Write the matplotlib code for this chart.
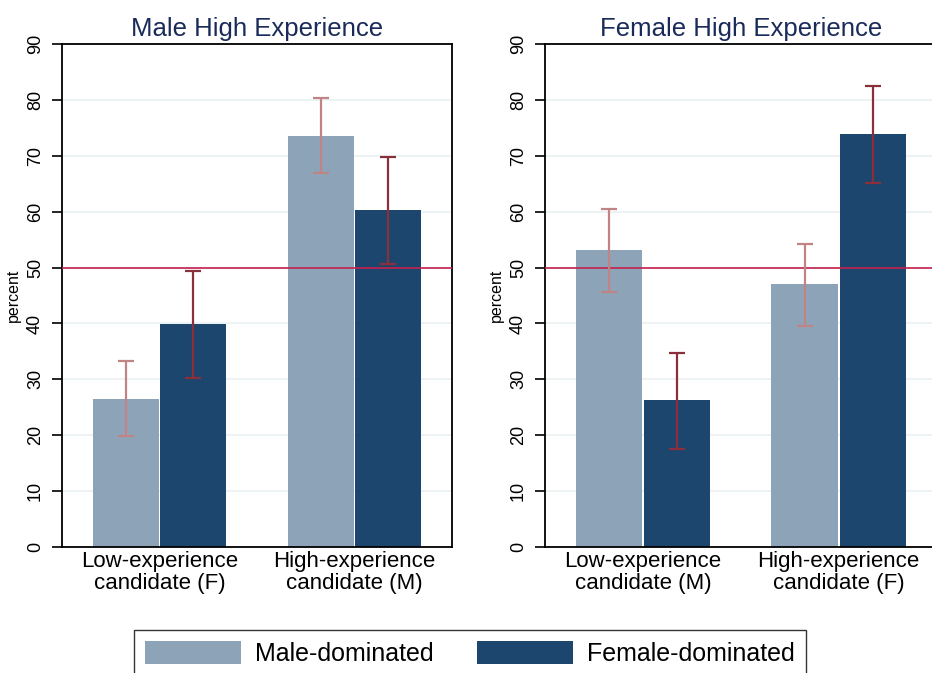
import matplotlib.pyplot as plt
import numpy as np
from matplotlib.patches import Patch

plt.rcParams['font.family'] = ['Liberation Sans', 'DejaVu Sans']

# data
panel_titles = ['Male High Experience', 'Female High Experience']
categories = [['Low-experience\ncandidate (F)', 'High-experience\ncandidate (M)'],
              ['Low-experience\ncandidate (M)', 'High-experience\ncandidate (F)']]
series_names = ['Male-dominated', 'Female-dominated']

male_dom = [[26.5, 73.5], [53.1, 47.1]]
male_lo = [[19.8, 66.9], [45.7, 39.5]]
male_hi = [[33.2, 80.3], [60.5, 54.3]]

female_dom = [[39.9, 60.3], [26.3, 73.9]]
female_lo = [[30.2, 50.6], [17.6, 65.2]]
female_hi = [[49.4, 69.8], [34.8, 82.5]]

# colours
light = '#8DA4B8'
dark = '#1C466E'
err_light = '#C08484'
err_dark = '#8B2F3A'
refc = '#C5204C'
titlec = '#1A2B5A'

fig = plt.figure(figsize=(9.32, 6.73), dpi=100)
W, H = 932, 673
axes = [fig.add_axes([62 / W, 1 - 547 / H, 390 / W, 503 / H]),
        fig.add_axes([545 / W, 1 - 547 / H, 391.5 / W, 503 / H])]

width = 0.338
off = 0.174
x = np.arange(2)
for i, ax in enumerate(axes):
    for y in range(10, 90, 10):
        ax.axhline(y, color='#EAF1F2', lw=1.2, zorder=0)
    ax.bar(x - off, male_dom[i], width, color=light, zorder=2)
    ax.bar(x + off, female_dom[i], width, color=dark, zorder=2)
    m = np.array(male_dom[i])
    f = np.array(female_dom[i])
    ax.errorbar(x - off, m, yerr=[m - np.array(male_lo[i]), np.array(male_hi[i]) - m],
                fmt='none', ecolor=err_light, elinewidth=1.6, capsize=5.8, capthick=1.6, zorder=4)
    ax.errorbar(x + off, f, yerr=[f - np.array(female_lo[i]), np.array(female_hi[i]) - f],
                fmt='none', ecolor=err_dark, elinewidth=1.6, capsize=5.8, capthick=1.6, zorder=4)
    ax.axhline(50, color=refc, lw=1.2, zorder=3)
    ax.set_xlim(-0.5, 1.5)
    ax.set_ylim(0, 90)
    ax.set_yticks(range(0, 100, 10))
    ax.set_yticklabels([str(v) for v in range(0, 100, 10)], rotation=90, va='center', fontsize=13)
    ax.tick_params(axis='y', length=7, width=1.2, pad=6)
    ax.set_xticks(x)
    ax.set_xticklabels(categories[i], fontsize=16, linespacing=1.05)
    ax.tick_params(axis='x', length=0, pad=3)
    for s in ax.spines.values():
        s.set_linewidth(1.3)
        s.set_color('black')
    ax.set_ylabel('percent', fontsize=11.5, labelpad=4)
    ax.set_title(panel_titles[i], fontsize=18.5, color=titlec, pad=6)

handles = [Patch(facecolor=light, label=series_names[0]),
           Patch(facecolor=dark, label=series_names[1])]
leg = fig.legend(handles=handles, loc='upper center', bbox_to_anchor=(470 / W, 1 - 630 / H),
                 ncol=2, fontsize=18, frameon=True, fancybox=False, edgecolor='black',
                 handlelength=3.84, handleheight=1.0, columnspacing=1.76, handletextpad=0.56,
                 borderpad=0.45, borderaxespad=0)
leg.get_frame().set_linewidth(1.0)

fig.savefig('out.png', dpi=100, facecolor='white')
